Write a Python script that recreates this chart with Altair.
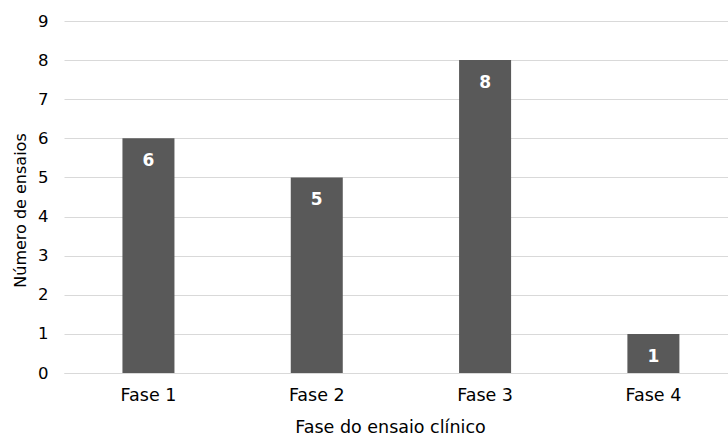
import altair as alt
import pandas as pd

categorias = ["Fase 1", "Fase 2", "Fase 3", "Fase 4"]
ensaios = [6, 5, 8, 1]

df = pd.DataFrame({"fase": categorias, "n": ensaios})

FONT = "DejaVu Sans"

xscale = alt.Scale(paddingInner=0.691, paddingOuter=0.318, align=0.546)
yscale = alt.Scale(domain=[0, 9], nice=False)

x = alt.X(
    "fase:N",
    sort=categorias,
    scale=xscale,
    axis=alt.Axis(
        title="Fase do ensaio clínico",
        labelAngle=0,
        labelFontSize=17.5,
        labelColor="#000000",
        labelPadding=13,
        ticks=False,
        domain=True,
        domainColor="#d9d9d9",
        titleFontSize=17.5,
        titleFontWeight="normal",
        titleColor="#000000",
        titleX=326,
        titleY=54,
        titleBaseline="middle",
        titleAlign="center",
    ),
)

y = alt.Y(
    "n:Q",
    scale=yscale,
    axis=alt.Axis(
        title="Número de ensaios",
        values=[0, 1, 2, 3, 4, 5, 6, 7, 8, 9],
        tickCount=20,
        format="d",
        labelOverlap=False,
        labelFontSize=16.5,
        labelColor="#000000",
        labelPadding=16,
        ticks=False,
        domain=False,
        grid=True,
        gridColor="#d9d9d9",
        gridWidth=1,
        titleFontSize=16,
        titleFontWeight="normal",
        titleColor="#000000",
        titleX=-44,
        titleY=189,
        titleAngle=-90,
        titleBaseline="middle",
        titleAlign="center",
    ),
)

base = alt.Chart(df).encode(x=x, y=y)

bars = base.mark_bar(color="#595959")

labels = base.mark_text(
    color="white", fontWeight="bold", fontSize=17, baseline="middle", dy=23, font=FONT
).encode(text="n:Q")

chart = (
    alt.layer(bars, labels)
    .properties(
        width=664,
        height=352,
        autosize=alt.AutoSizeParams(type="none"),
        padding={"left": 64, "top": 21, "right": 0, "bottom": 63},
        background="white",
    )
    .configure_view(stroke=None)
    .configure_axis(labelFont=FONT, titleFont=FONT)
)

chart.save("out.html", embed_options={"renderer": "svg", "actions": False})
